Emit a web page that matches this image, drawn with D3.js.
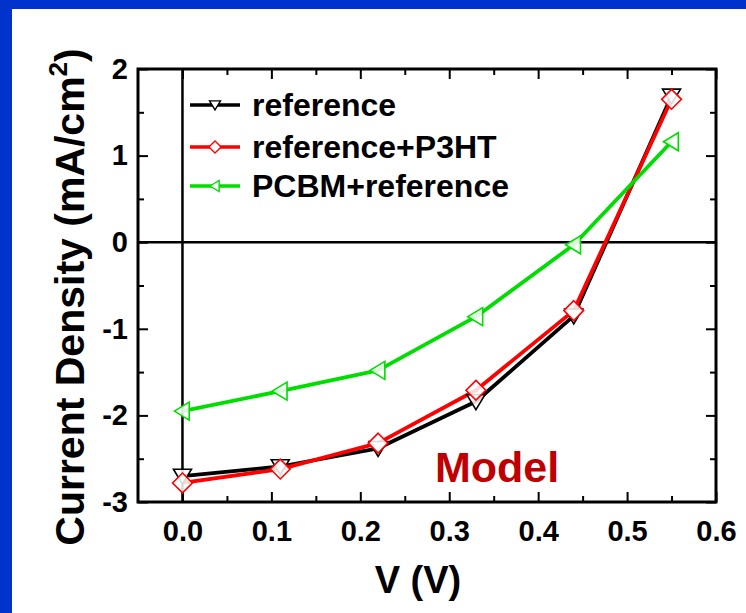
<!DOCTYPE html>
<html><head><meta charset="utf-8">
<script src="https://cdn.jsdelivr.net/npm/d3@7"></script>
<style>
html,body{margin:0;padding:0;background:#0033cc;}
svg{display:block;}
</style></head>
<body>
<svg id="chart" width="746" height="613"></svg>
<script>
const voltages = [0, 0.11, 0.22, 0.33, 0.44, 0.55];
const seriesNames = ["reference", "reference+P3HT", "PCBM+reference"];
const refValues = [-2.70, -2.59, -2.38, -1.84, -0.85, 1.69];
const p3htValues = [-2.78, -2.62, -2.32, -1.71, -0.79, 1.65];
const pcbmValues = [-1.95, -1.72, -1.48, -0.86, -0.03, 1.16];
const xTickLabels = ["0.0","0.1","0.2","0.3","0.4","0.5","0.6"];
const yTickLabels = ["-3","-2","-1","0","1","2"];

const series = [
  {name: seriesNames[0], values: refValues, color: "#000000", symbol: "down"},
  {name: seriesNames[1], values: p3htValues, color: "#ff0000", symbol: "diamond"},
  {name: seriesNames[2], values: pcbmValues, color: "#00dd00", symbol: "left"}
];

const svg = d3.select("#chart");
svg.append("rect").attr("x",12).attr("y",9).attr("width",734).attr("height",604).attr("fill","#ffffff");

const L = 138, T = 69, R = 716, B = 502;
const x = d3.scaleLinear().domain([-0.05, 0.6]).range([L, R]);
const y = d3.scaleLinear().domain([-3, 2]).range([B, T]);

const font = "'Liberation Sans', Arial, sans-serif";
const g = svg.append("g");

// zero lines
g.append("line").attr("x1",x(0)).attr("x2",x(0)).attr("y1",T).attr("y2",B).attr("stroke","#000").attr("stroke-width",2.5);
g.append("line").attr("x1",L).attr("x2",R).attr("y1",y(0)).attr("y2",y(0)).attr("stroke","#000").attr("stroke-width",2.5);

const xMajor = xTickLabels.map(Number);
const xMinor = d3.range(0.05, 0.6, 0.1);
const yMajor = yTickLabels.map(Number);
const yMinor = d3.range(-2.5, 2, 1);

function axisGroup(axis, tx, ty) {
  const a = g.append("g").attr("transform", `translate(${tx},${ty})`).call(axis);
  a.select(".domain").remove();
  a.selectAll(".tick line").attr("stroke","#000").attr("stroke-width",2);
  return a;
}
const xb = axisGroup(d3.axisBottom(x).tickValues(xMajor).tickSize(-10).tickPadding(18).tickFormat((d,i)=>xTickLabels[i]), 0, B);
xb.selectAll("text").attr("font-family",font).attr("font-weight","bold").attr("font-size",29).attr("fill","#000");
axisGroup(d3.axisBottom(x).tickValues(xMinor).tickSize(-6).tickFormat(""), 0, B);
axisGroup(d3.axisTop(x).tickValues(xMajor).tickSize(-10).tickFormat(""), 0, T);
axisGroup(d3.axisTop(x).tickValues(xMinor).tickSize(-6).tickFormat(""), 0, T);
const yl = axisGroup(d3.axisLeft(y).tickValues(yMajor).tickSize(-10).tickPadding(10).tickFormat((d,i)=>yTickLabels[i]), L, 0);
yl.selectAll("text").attr("font-family",font).attr("font-weight","bold").attr("font-size",29).attr("fill","#000");
axisGroup(d3.axisLeft(y).tickValues(yMinor).tickSize(-6).tickFormat(""), L, 0);
axisGroup(d3.axisRight(y).tickValues(yMajor).tickSize(-10).tickFormat(""), R, 0);
axisGroup(d3.axisRight(y).tickValues(yMinor).tickSize(-6).tickFormat(""), R, 0);

g.append("rect").attr("x",L).attr("y",T).attr("width",R-L).attr("height",B-T).attr("fill","none").attr("stroke","#000").attr("stroke-width",3);

function symbolPath(type, s) {
  if (type === "down") return `M${-s},${-s*0.75}L${s},${-s*0.75}L0,${s*0.9}Z`;
  if (type === "left") return `M${-s*0.9},0L${s*0.75},${-s}L${s*0.75},${s}Z`;
  return `M0,${-s*1.1}L${s*1.1},0L0,${s*1.1}L${-s*1.1},0Z`;
}

const line = d3.line().x((d,i)=>x(voltages[i])).y(d=>y(d));
series.forEach(s => {
  g.append("path").attr("d", line(s.values)).attr("fill","none").attr("stroke",s.color).attr("stroke-width",3.8).attr("stroke-linejoin","round");
});
series.forEach(s => {
  g.selectAll(null).data(s.values).enter().append("path")
    .attr("transform",(d,i)=>`translate(${x(voltages[i])},${y(d)})`)
    .attr("d", symbolPath(s.symbol, 9))
    .attr("fill","#fff").attr("fill-opacity",0.85).attr("stroke",s.color).attr("stroke-width",1.6);
});

const legRows = [105, 147, 186];
series.forEach((s,i) => {
  const ly = legRows[i];
  g.append("line").attr("x1",190).attr("x2",240).attr("y1",ly).attr("y2",ly).attr("stroke",s.color).attr("stroke-width",3.5);
  g.append("path").attr("transform",`translate(215,${ly})`).attr("d",symbolPath(s.symbol,5.5))
    .attr("fill","#fff").attr("stroke",s.color).attr("stroke-width",1.4);
  g.append("text").attr("x",252).attr("y",ly+11).attr("font-family",font).attr("font-weight","bold")
    .attr("font-size",32).attr("fill","#000").text(s.name);
});

g.append("text").attr("x",435).attr("y",482).attr("font-family",font).attr("font-weight","bold")
  .attr("font-size",43).attr("fill","#c00000").text("Model");

g.append("text").attr("x",418).attr("y",593).attr("text-anchor","middle").attr("font-family",font)
  .attr("font-weight","bold").attr("font-size",38).attr("fill","#000").text("V (V)");
const yt = g.append("text").attr("transform",`translate(84,297) rotate(-90)`).attr("text-anchor","middle")
  .attr("font-family",font).attr("font-weight","bold").attr("font-size",41).attr("fill","#000");
yt.append("tspan").text("Current Density (mA/cm");
yt.append("tspan").attr("dy",-17).attr("font-size",26).text("2");
yt.append("tspan").attr("dy",17).text(")");
</script>
</body></html>
